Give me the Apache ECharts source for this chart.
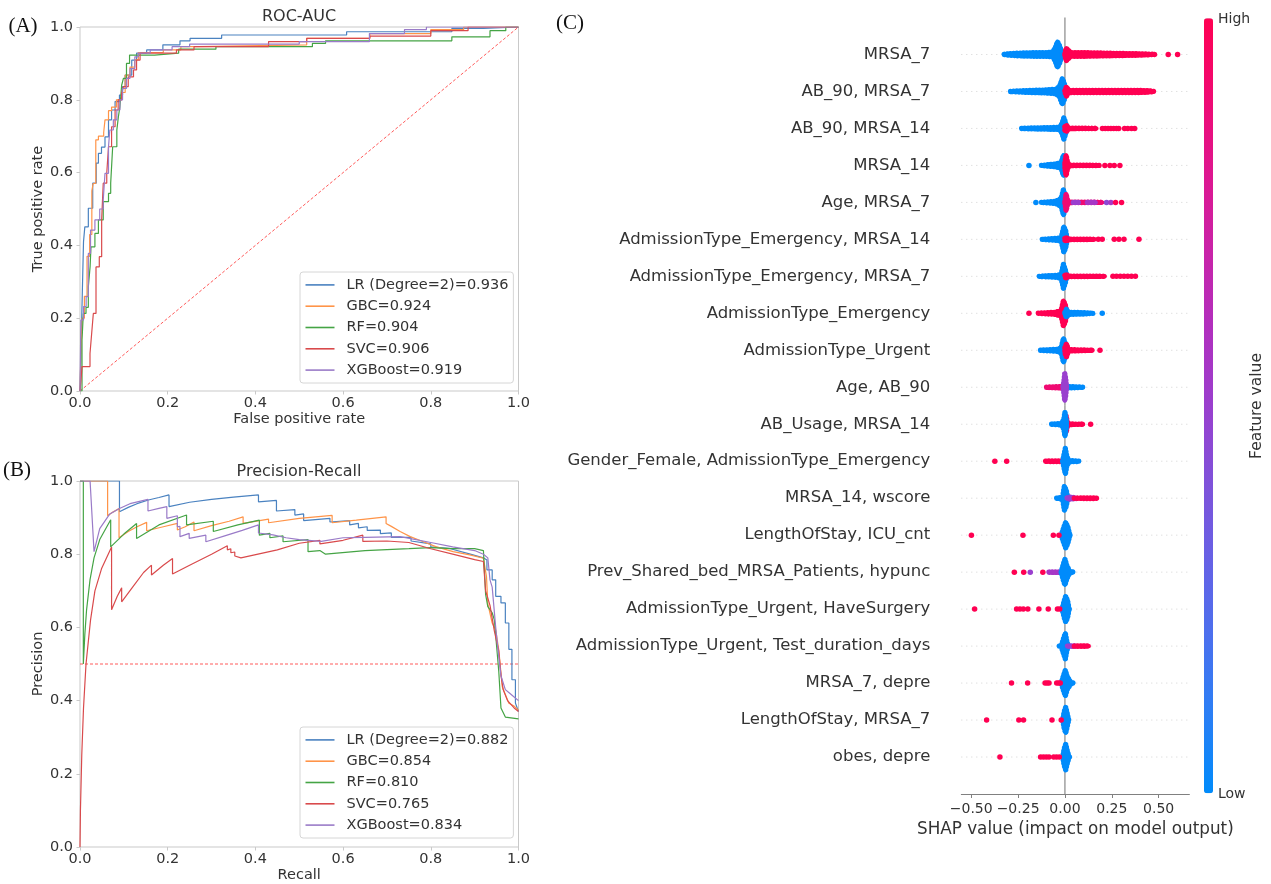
<!DOCTYPE html>
<html><head><meta charset="utf-8">
<script src="https://cdn.jsdelivr.net/npm/echarts@6/dist/echarts.min.js"></script>
<style>html,body{margin:0;padding:0;background:#fff}#c{width:1271px;height:884px}</style>
</head><body><div id="c"></div>
<script>
// ---------------- DATA ----------------
const rocNames = ['LR (Degree=2)=0.936', 'GBC=0.924', 'RF=0.904', 'SVC=0.906', 'XGBoost=0.919'];
const prNames = ['LR (Degree=2)=0.882', 'GBC=0.854', 'RF=0.810', 'SVC=0.765', 'XGBoost=0.834'];
const shapTicks = [-0.5, -0.25, 0, 0.25, 0.5];

// ROC curves: [false positive rate, true positive rate] corner points
const rocLR = [[0,0],[0.002,0.09],[0.004,0.204],[0.008,0.41],[0.011,0.451],[0.019,0.502],[0.029,0.571],[0.037,0.626],[0.042,0.653],[0.049,0.67],[0.057,0.698],[0.065,0.745],[0.072,0.772],[0.08,0.795],[0.09,0.813],[0.097,0.836],[0.103,0.868],[0.118,0.909],[0.129,0.928],[0.152,0.937],[0.189,0.951],[0.228,0.962],[0.251,0.969],[0.323,0.978],[0.608,0.987],[0.848,0.996],[0.92,1],[1,1]];
const rocGBC = [[0,0],[0.002,0.1],[0.005,0.2],[0.01,0.26],[0.016,0.37],[0.022,0.43],[0.027,0.55],[0.03,0.57],[0.036,0.69],[0.042,0.70],[0.054,0.71],[0.057,0.745],[0.065,0.77],[0.072,0.78],[0.083,0.80],[0.095,0.82],[0.103,0.868],[0.114,0.89],[0.125,0.91],[0.133,0.93],[0.19,0.937],[0.23,0.946],[0.27,0.951],[0.517,0.969],[0.661,0.982],[0.8,0.993],[0.875,1],[1,1]];
const rocRF = [[0,0],[0.0046,0.14],[0.0076,0.213],[0.0137,0.23],[0.019,0.286],[0.023,0.341],[0.025,0.396],[0.034,0.433],[0.042,0.47],[0.053,0.52],[0.065,0.543],[0.07,0.571],[0.0745,0.671],[0.084,0.717],[0.0875,0.753],[0.091,0.781],[0.095,0.84],[0.099,0.859],[0.106,0.9],[0.113,0.923],[0.17,0.928],[0.225,0.939],[0.31,0.946],[0.53,0.955],[0.56,0.962],[0.848,0.973],[0.935,0.99],[0.971,1],[1,1]];
const rocSVC = [[0,0],[0.0023,0.03],[0.0046,0.067],[0.0228,0.103],[0.0266,0.158],[0.0304,0.213],[0.0365,0.341],[0.044,0.369],[0.0494,0.47],[0.053,0.571],[0.061,0.598],[0.065,0.671],[0.072,0.726],[0.08,0.772],[0.087,0.8],[0.095,0.818],[0.099,0.836],[0.11,0.863],[0.122,0.882],[0.129,0.909],[0.137,0.928],[0.22,0.937],[0.26,0.946],[0.43,0.96],[0.517,0.969],[0.661,0.975],[0.8,0.99],[0.885,1],[1,1]];
const rocXGB = [[0,0],[0.002,0.195],[0.008,0.232],[0.014,0.259],[0.019,0.378],[0.024,0.442],[0.034,0.47],[0.045,0.5],[0.053,0.525],[0.057,0.598],[0.065,0.671],[0.068,0.717],[0.076,0.745],[0.084,0.772],[0.091,0.8],[0.097,0.831],[0.106,0.859],[0.114,0.886],[0.125,0.918],[0.133,0.928],[0.16,0.937],[0.21,0.946],[0.25,0.953],[0.5,0.96],[0.66,0.982],[0.74,0.993],[0.79,1],[1,1]];
const rocChance = [[0,0],[1,1]];

// Precision-Recall curves: [recall, precision]
const prLR = [[0,1],[0.09,1],[0.09,0.916],[0.11,0.928],[0.13,0.938],[0.156,0.948],[0.18,0.955],[0.203,0.962],[0.203,0.93],[0.25,0.942],[0.3,0.95],[0.35,0.956],[0.407,0.962],[0.407,0.943],[0.448,0.947],[0.448,0.918],[0.49,0.922],[0.49,0.907],[0.51,0.91],[0.51,0.892],[0.57,0.898],[0.57,0.888],[0.615,0.892],[0.615,0.88],[0.635,0.884],[0.635,0.872],[0.655,0.875],[0.655,0.865],[0.685,0.866],[0.685,0.856],[0.71,0.858],[0.71,0.846],[0.755,0.846],[0.755,0.836],[0.8,0.828],[0.8,0.82],[0.845,0.815],[0.89,0.8],[0.92,0.79],[0.928,0.784],[0.928,0.757],[0.94,0.757],[0.94,0.73],[0.948,0.73],[0.948,0.685],[0.96,0.685],[0.96,0.667],[0.97,0.667],[0.97,0.612],[0.978,0.612],[0.978,0.54],[0.985,0.54],[0.985,0.457],[0.993,0.457],[0.993,0.393],[1,0.37]];
const prGBC = [[0,1],[0.063,1],[0.063,0.905],[0.075,0.915],[0.089,0.925],[0.089,0.845],[0.11,0.862],[0.13,0.875],[0.152,0.887],[0.152,0.864],[0.19,0.875],[0.222,0.884],[0.222,0.866],[0.24,0.875],[0.26,0.888],[0.26,0.864],[0.3,0.878],[0.34,0.89],[0.372,0.902],[0.372,0.884],[0.43,0.896],[0.43,0.886],[0.5,0.898],[0.575,0.906],[0.575,0.886],[0.63,0.893],[0.698,0.902],[0.698,0.884],[0.71,0.876],[0.73,0.862],[0.753,0.848],[0.783,0.834],[0.813,0.82],[0.851,0.807],[0.889,0.798],[0.92,0.789],[0.927,0.739],[0.93,0.665],[0.94,0.612],[0.948,0.593],[0.955,0.539],[0.963,0.438],[0.978,0.393],[0.99,0.385],[1,0.374]];
const prRF = [[0,1],[0.0076,1],[0.0076,0.5],[0.011,0.58],[0.015,0.648],[0.0228,0.73],[0.032,0.79],[0.045,0.84],[0.07,0.894],[0.07,0.82],[0.1,0.855],[0.129,0.884],[0.129,0.843],[0.18,0.88],[0.243,0.907],[0.243,0.88],[0.304,0.89],[0.304,0.862],[0.36,0.88],[0.409,0.893],[0.409,0.852],[0.433,0.857],[0.433,0.845],[0.463,0.85],[0.463,0.834],[0.52,0.84],[0.52,0.807],[0.547,0.81],[0.56,0.80],[0.65,0.81],[0.75,0.815],[0.8,0.818],[0.85,0.815],[0.9,0.815],[0.92,0.81],[0.925,0.69],[0.93,0.657],[0.94,0.64],[0.945,0.62],[0.955,0.48],[0.96,0.38],[0.97,0.355],[1,0.35]];
const prSVC = [[0,0],[0.001,0.1],[0.004,0.25],[0.008,0.38],[0.0137,0.5],[0.024,0.62],[0.034,0.7],[0.049,0.76],[0.072,0.82],[0.072,0.648],[0.085,0.685],[0.095,0.708],[0.095,0.67],[0.12,0.71],[0.145,0.75],[0.163,0.77],[0.163,0.743],[0.19,0.77],[0.211,0.788],[0.211,0.746],[0.25,0.77],[0.3,0.8],[0.336,0.823],[0.336,0.812],[0.344,0.815],[0.344,0.804],[0.353,0.806],[0.353,0.795],[0.367,0.79],[0.45,0.812],[0.5,0.83],[0.547,0.838],[0.547,0.828],[0.6,0.838],[0.645,0.852],[0.645,0.835],[0.7,0.836],[0.75,0.832],[0.8,0.815],[0.85,0.8],[0.9,0.785],[0.92,0.78],[0.925,0.70],[0.935,0.66],[0.945,0.59],[0.955,0.535],[0.96,0.47],[0.965,0.43],[0.975,0.40],[0.99,0.38],[1,0.37]];
const prXGB = [[0,1],[0.023,1],[0.032,0.807],[0.045,0.87],[0.068,0.91],[0.09,0.925],[0.114,0.938],[0.155,0.95],[0.155,0.918],[0.18,0.925],[0.198,0.93],[0.198,0.898],[0.222,0.905],[0.222,0.875],[0.228,0.876],[0.228,0.848],[0.249,0.857],[0.249,0.843],[0.287,0.852],[0.287,0.834],[0.33,0.85],[0.37,0.865],[0.407,0.88],[0.407,0.858],[0.44,0.853],[0.47,0.845],[0.5,0.84],[0.55,0.835],[0.6,0.845],[0.65,0.846],[0.73,0.848],[0.8,0.832],[0.85,0.82],[0.9,0.81],[0.92,0.8],[0.93,0.79],[0.935,0.73],[0.94,0.71],[0.948,0.6],[0.955,0.52],[0.96,0.468],[0.97,0.43],[0.98,0.42],[0.99,0.41],[1,0.4]];
const prBaseline = [[0,0.5],[1,0.5]];

// SHAP summary
const features = ['MRSA_7', 'AB_90, MRSA_7', 'AB_90, MRSA_14', 'MRSA_14', 'Age, MRSA_7',
  'AdmissionType_Emergency, MRSA_14', 'AdmissionType_Emergency, MRSA_7', 'AdmissionType_Emergency',
  'AdmissionType_Urgent', 'Age, AB_90', 'AB_Usage, MRSA_14', 'Gender_Female, AdmissionType_Emergency',
  'MRSA_14, wscore', 'LengthOfStay, ICU_cnt', 'Prev_Shared_bed_MRSA_Patients, hypunc',
  'AdmissionType_Urgent, HaveSurgery', 'AdmissionType_Urgent, Test_duration_days', 'MRSA_7, depre',
  'LengthOfStay, MRSA_7', 'obes, depre'];
// dense swarm envelopes: [row, feature value (0 low .. 1 high), [[shap value, half thickness in rows], ...]]
const swarmShapes = [
 [0, 0, [[-0.324,0.05],[-0.3,0.09],[-0.24,0.11],[-0.16,0.12],[-0.1,0.12],[-0.065,0.14],[-0.052,0.25],[-0.04,0.42],[-0.028,0.3],[-0.018,0.15],[-0.008,0.13],[0.0,0.1]]],
 [0, 1, [[0.0,0.1],[0.006,0.24],[0.016,0.2],[0.03,0.12],[0.1,0.12],[0.2,0.11],[0.3,0.1],[0.4,0.09],[0.455,0.08],[0.48,0.05]]],
 [1, 0, [[-0.29,0.05],[-0.27,0.08],[-0.19,0.1],[-0.11,0.11],[-0.05,0.13],[-0.03,0.2],[-0.014,0.42],[-0.004,0.3],[0.004,0.12]]],
 [1, 1, [[0.0,0.1],[0.008,0.2],[0.02,0.1],[0.1,0.1],[0.25,0.1],[0.4,0.1],[0.45,0.09],[0.475,0.05]]],
 [2, 0, [[-0.231,0.05],[-0.21,0.08],[-0.11,0.09],[-0.03,0.1],[-0.016,0.2],[-0.006,0.36],[0.002,0.25],[0.01,0.08]]],
 [2, 1, [[0.0,0.12],[0.008,0.16],[0.02,0.08],[0.169,0.07]]],
 [3, 0, [[-0.125,0.05],[-0.11,0.08],[-0.05,0.11],[-0.02,0.15],[-0.008,0.35],[0.0,0.2],[0.008,0.08]]],
 [3, 1, [[0.0,0.15],[0.006,0.35],[0.014,0.15],[0.025,0.08],[0.183,0.07]]],
 [4, 0, [[-0.125,0.05],[-0.11,0.08],[-0.05,0.1],[-0.02,0.18],[-0.008,0.42],[0.0,0.25],[0.008,0.08]]],
 [4, 0.9, [[0.0,0.1],[0.006,0.3],[0.015,0.1],[0.03,0.08],[0.2,0.07]]],
 [4, 0.5, [[0.045,0.05],[0.075,0.05]]],
 [4, 0.55, [[0.12,0.05],[0.165,0.05]]],
 [5, 0, [[-0.121,0.05],[-0.1,0.08],[-0.04,0.1],[-0.02,0.12],[-0.006,0.42],[0.004,0.3],[0.012,0.08]]],
 [5, 1, [[0.0,0.1],[0.008,0.12],[0.02,0.08],[0.16,0.06]]],
 [6, 0, [[-0.137,0.05],[-0.12,0.08],[-0.04,0.1],[-0.02,0.13],[-0.008,0.4],[0.002,0.25],[0.01,0.08]]],
 [6, 1, [[0.0,0.1],[0.008,0.12],[0.02,0.08],[0.2,0.07],[0.213,0.05]]],
 [7, 1, [[-0.142,0.05],[-0.125,0.08],[-0.05,0.1],[-0.02,0.15],[-0.008,0.42],[0.002,0.3],[0.01,0.1]]],
 [7, 0, [[0.0,0.1],[0.008,0.18],[0.02,0.1],[0.1,0.09],[0.151,0.06]]],
 [8, 0, [[-0.13,0.05],[-0.11,0.08],[-0.04,0.1],[-0.02,0.14],[-0.008,0.4],[0.002,0.25],[0.01,0.08]]],
 [8, 1, [[0.0,0.15],[0.008,0.25],[0.018,0.1],[0.035,0.09],[0.148,0.07]]],
 [9, 0.9, [[-0.098,0.05],[-0.08,0.08],[-0.03,0.09],[-0.012,0.1]]],
 [9, 0, [[0.008,0.08],[0.03,0.09],[0.07,0.08],[0.098,0.05]]],
 [9, 0.5, [[-0.01,0.1],[-0.005,0.25],[-0.001,0.44],[0.004,0.3],[0.008,0.1]]],
 [10, 1, [[0.0,0.12],[0.006,0.3],[0.014,0.1],[0.025,0.08],[0.098,0.07]]],
 [10, 0, [[-0.071,0.05],[-0.055,0.08],[-0.02,0.09],[-0.006,0.2],[0.0,0.4],[0.008,0.15]]],
 [11, 1, [[-0.103,0.05],[-0.09,0.08],[-0.02,0.08],[-0.005,0.06]]],
 [11, 0, [[-0.012,0.08],[-0.005,0.25],[0.002,0.42],[0.01,0.2],[0.022,0.09],[0.06,0.08],[0.076,0.05]]],
 [12, 0, [[-0.044,0.05],[-0.03,0.08],[-0.012,0.12],[-0.003,0.4],[0.006,0.3],[0.015,0.1]]],
 [12, 0.5, [[0.012,0.08],[0.03,0.1],[0.06,0.08]]],
 [12, 1, [[0.05,0.07],[0.1,0.08],[0.16,0.08],[0.169,0.05]]],
 [13, 0, [[-0.02,0.06],[-0.005,0.3],[0.004,0.42],[0.015,0.3],[0.025,0.1],[0.03,0.05]]],
 [14, 0.55, [[-0.085,0.05],[-0.07,0.08],[-0.03,0.08],[-0.015,0.06]]],
 [14, 0, [[-0.02,0.08],[-0.008,0.3],[0.0,0.42],[0.01,0.25],[0.025,0.1],[0.04,0.08],[0.045,0.05]]],
 [15, 0, [[-0.015,0.06],[-0.004,0.3],[0.004,0.42],[0.014,0.3],[0.022,0.08],[0.026,0.05]]],
 [16, 0, [[-0.03,0.05],[-0.02,0.08],[-0.006,0.3],[0.002,0.42],[0.01,0.2],[0.018,0.06]]],
 [16, 0.5, [[0.014,0.07],[0.03,0.08],[0.06,0.07]]],
 [16, 1, [[0.05,0.07],[0.1,0.08],[0.128,0.06]]],
 [17, 0, [[-0.02,0.06],[-0.006,0.3],[0.002,0.42],[0.012,0.25],[0.03,0.1],[0.04,0.08],[0.045,0.05]]],
 [18, 0, [[-0.012,0.06],[-0.004,0.3],[0.004,0.42],[0.012,0.25],[0.02,0.06]]],
 [19, 0, [[-0.012,0.06],[-0.004,0.3],[0.004,0.42],[0.012,0.25],[0.022,0.08],[0.028,0.05]]]
];
// isolated points: [shap value, row, feature value]
const swarmDots = [
 [0.551,0,1],[0.601,0,1],
 [0.2,2,1],[0.215,2,1],[0.23,2,1],[0.245,2,1],[0.26,2,1],[0.275,2,1],[0.287,2,1],[0.318,2,1],[0.335,2,1],[0.355,2,1],[0.372,2,1],
 [-0.192,3,0],[0.213,3,1],[0.24,3,1],[0.263,3,1],[0.293,3,1],
 [-0.155,4,0],[0.222,4,0.45],[0.245,4,0.55],[0.27,4,1],[0.302,4,1],
 [0.178,5,1],[0.199,5,1],[0.263,5,1],[0.288,5,1],[0.315,5,1],[0.395,5,1],
 [0.256,6,1],[0.275,6,1],[0.295,6,1],[0.315,6,1],[0.335,6,1],[0.355,6,1],[0.376,6,1],
 [-0.192,7,1],[0.199,7,0],
 [0.187,8,1],
 [0.137,10,1],
 [-0.374,11,1],[-0.311,11,1],
 [-0.499,13,1],[-0.224,13,1],[-0.062,13,1],[-0.032,13,1],
 [-0.27,14,1],[-0.22,14,1],[-0.185,14,0.5],[-0.118,14,1],
 [-0.482,15,1],[-0.258,15,1],[-0.24,15,1],[-0.222,15,1],[-0.198,15,1],[-0.139,15,1],[-0.089,15,1],[-0.04,15,1],[-0.028,15,1],
 [-0.285,17,1],[-0.199,17,1],[-0.106,17,1],[-0.095,17,1],[-0.085,17,1],[-0.044,17,1],[-0.034,17,1],[-0.025,17,1],
 [-0.418,18,1],[-0.246,18,1],[-0.221,18,1],[-0.069,18,1],[-0.02,18,1],
 [-0.347,19,1],[-0.13,19,1],[-0.115,19,1],[-0.1,19,1],[-0.085,19,1],[-0.06,19,1],[-0.045,19,1],[-0.03,19,1]
];
const shapRange = [-0.553, 0.664];

// ---------------- CHART ----------------
const F = '"DejaVu Sans", sans-serif';
const LINE_COLORS = ['#4a82c0', '#ff9448', '#45a445', '#d94a4c', '#9a7bc8'];
const CMAP = ['#008bfb','#2a7ff5','#4b70ee','#6661e5','#7f52da','#9a3fce','#b12fbe','#c923a8','#de168f','#f00a72','#ff0052'];
const GRAY = '#c9c9c9';

function leftX(gi, name) {
  return { type: 'value', gridIndex: gi, min: 0, max: 1, interval: 0.2,
    name: name, nameLocation: 'middle', nameGap: 19,
    nameTextStyle: { fontSize: 14.5, color: '#333', fontFamily: F },
    axisLine: { show: false }, axisTick: { show: true, length: 3.5, lineStyle: { color: GRAY } },
    axisLabel: { fontSize: 14.5, color: '#333', margin: 5, fontFamily: F, formatter: v => v.toFixed(1) },
    splitLine: { show: false } };
}
function leftY(gi, name) {
  return { type: 'value', gridIndex: gi, min: 0, max: 1, interval: 0.2,
    name: name, nameLocation: 'middle', nameGap: 30, nameRotate: 90,
    nameTextStyle: { fontSize: 14.5, color: '#333', fontFamily: F },
    axisLine: { show: false }, axisTick: { show: true, length: 3.5, lineStyle: { color: GRAY } },
    axisLabel: { fontSize: 14.5, color: '#333', margin: 7, fontFamily: F, formatter: v => v.toFixed(1) },
    splitLine: { show: false } };
}
function legendCfg(names, top) {
  return { data: names, orient: 'vertical', left: 300, top: top,
    padding: [4.4, 5, 4.4, 5.5], itemGap: 4.3, itemWidth: 29, itemHeight: 1.6, icon: 'rect',
    backgroundColor: 'rgba(255,255,255,0.85)', borderColor: '#d6d6d6', borderWidth: 1, borderRadius: 3,
    textStyle: { fontSize: 14.5, color: '#333', fontFamily: F, lineHeight: 17, padding: [0, 0, 0, 7] },
    selectedMode: false };
}
function curve(name, data, color, xi, step) {
  return { type: 'line', name: name, xAxisIndex: xi, yAxisIndex: xi, data: data,
    step: step ? 'end' : false, showSymbol: false, symbol: 'none', color: color,
    lineStyle: { color: color, width: 1.2 }, silent: true, z: 3 };
}

const series = [];
const rocData = [rocLR, rocGBC, rocRF, rocSVC, rocXGB];
const prData = [prLR, prGBC, prRF, prSVC, prXGB];
series.push({ type: 'line', data: rocChance, xAxisIndex: 0, yAxisIndex: 0, showSymbol: false, symbol: 'none',
  lineStyle: { color: '#ff5a5a', width: 1, type: [3, 2] }, silent: true, z: 2 });
rocData.forEach((d, i) => series.push(curve(rocNames[i], d, LINE_COLORS[i], 0, true)));
series.push({ type: 'line', data: prBaseline, xAxisIndex: 1, yAxisIndex: 1, showSymbol: false, symbol: 'none',
  lineStyle: { color: '#ff5a5a', width: 1, type: [3, 2] }, silent: true, z: 2 });
prData.forEach((d, i) => series.push(curve(prNames[i], d, LINE_COLORS[i], 1, false)));

// SHAP: row guide lines
series.push({ type: 'custom', xAxisIndex: 2, yAxisIndex: 2, silent: true, z: 1,
  data: features.map((f, i) => [0, i]),
  renderItem: (params, api) => {
    const r = api.value(1);
    const a = api.coord([shapRange[0], r]), b = api.coord([shapRange[1], r]);
    return { type: 'line', shape: { x1: a[0], y1: a[1], x2: b[0], y2: b[1] },
      style: { stroke: '#d2d2d2', lineWidth: 1, lineDash: [1, 4] } };
  } });
// zero line
series.push({ type: 'line', xAxisIndex: 2, yAxisIndex: 2, data: [[0, -1], [0, 20]], showSymbol: false, symbol: 'none',
  lineStyle: { color: '#707070', width: 1 }, silent: true, z: 1 });
// swarm envelopes (filled body + dotted rim to mimic stacked dots)
const shapeSeriesIndex = series.length;
series.push({ type: 'custom', xAxisIndex: 2, yAxisIndex: 2, silent: true, z: 2,
  data: swarmShapes.map(s => [s[2][0][0], s[0], s[1]]),
  renderItem: (params, api) => {
    const s = swarmShapes[params.dataIndex];
    const row = s[0], prof = s[2];
    const rowPx = api.size([0, 1])[1];
    const top = [], bot = [];
    prof.forEach(([x, h]) => {
      const p = api.coord([x, row]);
      const hp = Math.max(0, h * rowPx - 2.7);
      top.push([p[0], p[1] - hp]);
      bot.push([p[0], p[1] + hp]);
    });
    const pts = top.concat(bot.reverse());
    const c = api.visual('color');
    return { type: 'group', children: [
      { type: 'polygon', shape: { points: pts },
        style: { fill: c, stroke: c, lineWidth: 4, lineJoin: 'round', lineCap: 'round' } },
      { type: 'polygon', shape: { points: pts },
        style: { fill: null, stroke: c, lineWidth: 5.4, lineJoin: 'round', lineCap: 'round', lineDash: [0.01, 3.2] } }
    ] };
  } });
const dotSeriesIndex = series.length;
series.push({ type: 'scatter', xAxisIndex: 2, yAxisIndex: 2, data: swarmDots, symbolSize: 5.5, silent: true, z: 3,
  itemStyle: { opacity: 1 } });

const option = {
  animation: false,
  backgroundColor: '#fff',
  grid: [
    { left: 80, top: 27, width: 438.5, height: 364, show: true, borderColor: GRAY, borderWidth: 1 },
    { left: 80, top: 481, width: 438.5, height: 366, show: true, borderColor: GRAY, borderWidth: 1 },
    { left: 961.3, top: 17.5, width: 228.1, height: 776.5, show: false }
  ],
  xAxis: [
    leftX(0, 'False positive rate'),
    leftX(1, 'Recall'),
    { type: 'value', gridIndex: 2, min: shapRange[0], max: shapRange[1],
      name: 'SHAP value (impact on model output)', nameLocation: 'middle', nameGap: 25,
      nameTextStyle: { fontSize: 16.8, color: '#333', fontFamily: F },
      axisLine: { show: true, onZero: false, lineStyle: { color: '#808080', width: 1 } },
      axisTick: { show: true, length: 4, customValues: shapTicks, lineStyle: { color: '#808080' } },
      axisLabel: { customValues: shapTicks, fontSize: 14, color: '#333', margin: 8, fontFamily: F,
        formatter: v => (v < 0 ? '\u2212' : '') + Math.abs(v).toFixed(2) },
      splitLine: { show: false } }
  ],
  yAxis: [
    leftY(0, 'True positive rate'),
    leftY(1, 'Precision'),
    { type: 'value', gridIndex: 2, min: -1, max: 20, interval: 1, inverse: true,
      axisLine: { show: false }, axisTick: { show: false }, splitLine: { show: false },
      axisLabel: { fontSize: 16.5, color: '#333', margin: 31, fontFamily: F,
        formatter: v => (features[v] !== undefined ? features[v] : '') } }
  ],
  legend: [legendCfg(rocNames, 272), legendCfg(prNames, 727)],
  visualMap: [{ type: 'continuous', min: 0, max: 1, dimension: 2,
    seriesIndex: [shapeSeriesIndex, dotSeriesIndex], orient: 'vertical', left: 1204, top: 18.3,
    itemWidth: 9, itemHeight: 775, calculable: false, padding: 0, hoverLink: false,
    inRange: { color: CMAP } }],
  graphic: [
    { type: 'text', x: 23, y: 26, style: { text: '(A)', font: '21px "Liberation Serif", serif', fill: '#111', align: 'center', verticalAlign: 'middle' } },
    { type: 'text', x: 17, y: 470, style: { text: '(B)', font: '21px "Liberation Serif", serif', fill: '#111', align: 'center', verticalAlign: 'middle' } },
    { type: 'text', x: 570, y: 23, style: { text: '(C)', font: '21px "Liberation Serif", serif', fill: '#111', align: 'center', verticalAlign: 'middle' } },
    { type: 'text', x: 299, y: 16.5, style: { text: 'ROC-AUC', font: '16px "DejaVu Sans", sans-serif', fill: '#333', align: 'center', verticalAlign: 'middle' } },
    { type: 'text', x: 299, y: 471.5, style: { text: 'Precision-Recall', font: '16px "DejaVu Sans", sans-serif', fill: '#333', align: 'center', verticalAlign: 'middle' } },
    { type: 'text', x: 1218, y: 19, style: { text: 'High', font: '14px "DejaVu Sans", sans-serif', fill: '#333', align: 'left', verticalAlign: 'middle' } },
    { type: 'text', x: 1218, y: 794, style: { text: 'Low', font: '14px "DejaVu Sans", sans-serif', fill: '#333', align: 'left', verticalAlign: 'middle' } },
    { type: 'text', x: 1257, y: 406, rotation: Math.PI / 2, style: { text: 'Feature value', font: '15.5px "DejaVu Sans", sans-serif', fill: '#333', align: 'center', verticalAlign: 'middle' } }
  ],
  series: series
};
const chart = echarts.init(document.getElementById('c'), null, { renderer: 'canvas' });
chart.setOption(option);
</script></body></html>
